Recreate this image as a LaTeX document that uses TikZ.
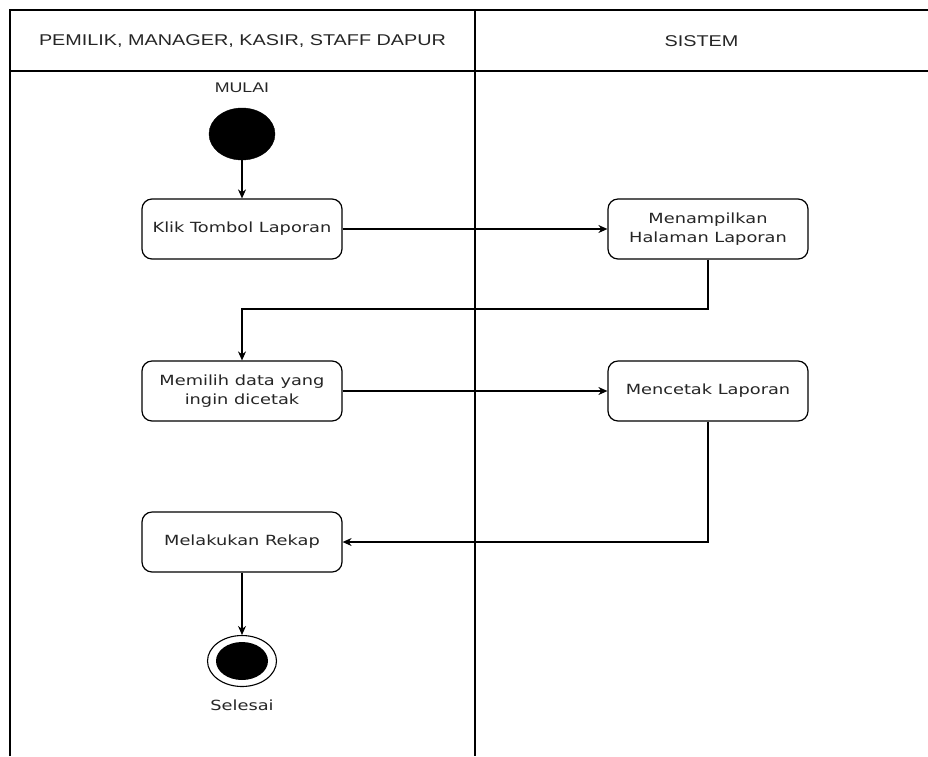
\documentclass[tikz,border=0pt]{standalone}
\usepackage{fontspec}
\setmainfont{Liberation Sans}[FakeStretch=1.27]
\newfontfamily\boxfont{DejaVu Sans}[FakeStretch=1.27]
\usetikzlibrary{shapes.geometric,arrows.meta}
\begin{document}
\begin{tikzpicture}[x=1pt,y=-1pt,
  lane/.style={line width=1.3pt,draw=black},
  hdr/.style={font=\fontsize{15.6}{19}\selectfont,text=black!85},
  lbl/.style={font=\boxfont\fontsize{14}{18.5}\selectfont,text=black!85},
  actbox/.style={draw=black,line width=1.2pt,rounded corners=10pt,fill=white,
    minimum width=200pt,minimum height=60pt,align=center,inner sep=2pt,
    font=\boxfont\fontsize{14}{18.5}\selectfont,text=black!85},
  arr/.style={draw=black,line width=1.2pt,-{Stealth[length=9pt,width=8pt]}}]
\useasboundingbox (0,0) rectangle (928,756);
\fill[white] (0,0) rectangle (928,756);
% swimlanes
\draw[lane] (10,756) -- (10,10) -- (928,10);
\draw[lane] (10,71) -- (928,71);
\draw[lane] (475,10) -- (475,756);
\node[hdr] (h1) at (242.5,41) {PEMILIK, MANAGER, KASIR, STAFF DAPUR};
\node[hdr] (h2) at (701.5,41) {SISTEM};
% start
\node[hdr,font=\fontsize{14}{17}\selectfont] (mulai) at (242,88) {MULAI};
\node[ellipse,fill=black,draw=black,minimum width=66pt,minimum height=52pt,inner sep=0pt] (start) at (242,134) {};
% activities
\node[actbox] (klik) at (242,229) {Klik Tombol Laporan};
\node[actbox] (tampil) at (708,229) {Menampilkan\\Halaman Laporan};
\node[actbox] (pilih) at (242,391) {Memilih data yang\\ingin dicetak};
\node[actbox] (cetak) at (708,391) {Mencetak Laporan};
\node[actbox] (rekap) at (242,542) {Melakukan Rekap};
% end
\node[ellipse,draw=black,line width=1.1pt,fill=white,minimum width=69pt,minimum height=51pt,inner sep=0pt] (endo) at (242,661) {};
\node[ellipse,fill=black,minimum width=52pt,minimum height=38pt,inner sep=0pt] (endi) at (242,661) {};
\node[lbl] (selesai) at (242,705) {Selesai};
% connectors
\coordinate (b1) at (708,309);
\draw[arr] (start) -- (klik);
\draw[arr] (klik) -- (tampil);
\draw[arr] (tampil.south) -- (b1) -| (pilih.north);
\draw[arr] (pilih) -- (cetak);
\draw[arr] (cetak.south) |- (rekap.east);
\draw[arr] (rekap) -- (endo);
\end{tikzpicture}
\end{document}
